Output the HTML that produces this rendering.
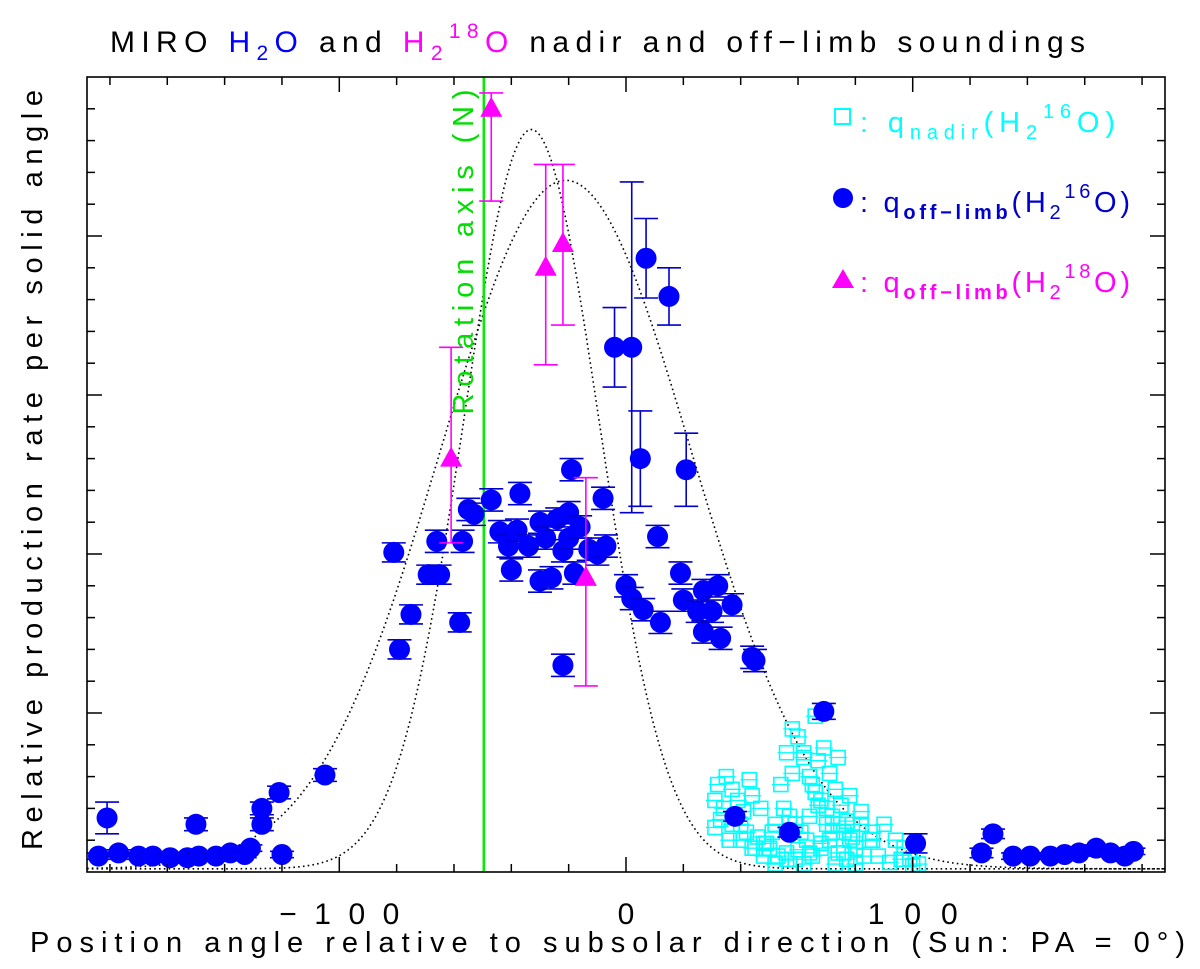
<!DOCTYPE html>
<html><head><meta charset="utf-8"><style>
body{margin:0;background:#fff;}
svg{display:block;font-family:"Liberation Sans",sans-serif;}
</style></head><body>
<svg id="chart" width="1200" height="969" viewBox="0 0 1200 969">
<rect width="1200" height="969" fill="#fff"/>
<g id="plot"></g>
<text x="110" y="52" font-size="30" textLength="975" lengthAdjust="spacing">MIRO <tspan fill="#0000ff">H<tspan font-size="21" dy="8">2</tspan><tspan dy="-8">O</tspan></tspan> and <tspan fill="#ff00ff">H<tspan font-size="21" dy="8">2</tspan><tspan font-size="21" dy="-22">18</tspan><tspan dy="14">O</tspan></tspan> nadir and off−limb soundings</text>
<text x="30" y="952" font-size="29" textLength="1155" lengthAdjust="spacing">Position angle relative to subsolar direction (Sun: PA = 0°)</text>
<text transform="translate(42,470) rotate(-90)" text-anchor="middle" font-size="29" textLength="760" lengthAdjust="spacing">Relative production rate per solid angle</text>
<text transform="translate(473,252) rotate(-90)" text-anchor="middle" font-size="29" fill="#00dd00" textLength="325" lengthAdjust="spacing">Rotation axis (N)</text>
<g>
<rect x="835" y="109" width="15" height="15" fill="none" stroke="#00ffff" stroke-width="2"/>
<text x="860" y="132" font-size="29" fill="#00ffff" textLength="255" lengthAdjust="spacing">: q<tspan font-size="20" dy="7">nadir</tspan><tspan dy="-7">(H</tspan><tspan font-size="20" dy="7">2</tspan><tspan font-size="20" dy="-21">16</tspan><tspan dy="14">O)</tspan></text>
<circle cx="843" cy="198" r="10" fill="#0000ff"/>
<text x="860" y="212" font-size="29" fill="#0000cc" textLength="270" lengthAdjust="spacing">: q<tspan font-size="20" dy="7" font-weight="bold">off−limb</tspan><tspan dy="-7">(H</tspan><tspan font-size="20" dy="7">2</tspan><tspan font-size="20" dy="-21">16</tspan><tspan dy="14">O)</tspan></text>
<polygon points="843,269 854,288 832,288" fill="#ff00ff"/>
<text x="860" y="292" font-size="29" fill="#ff00ff" textLength="270" lengthAdjust="spacing">: q<tspan font-size="20" dy="7" font-weight="bold">off−limb</tspan><tspan dy="-7">(H</tspan><tspan font-size="20" dy="7">2</tspan><tspan font-size="20" dy="-21">18</tspan><tspan dy="14">O)</tspan></text>
</g>
</svg>
<script>
const xTicks=[-100,0,100];
const xTickLabels=["−100","0","100"];
const rotAxisPA=-49.6;
// off-limb H2-16O: PA, value, error
const b16x=[-181,-184,-177,-170,-165,-159,-153,-149,-143,-138,-133,-131,-150,-127,-127,-121,-120,-105,-81,-79,-75,-66,-69,-65,-58,-57,-55,-53,-47,-44,-41,-40,-37,-38,-34,-30,-30,-28,-26,-24,-22,-20,-18,-20,-16,-13,-10,-8,-7,-19,-22,0,2,6,11,12,19,20,25,27,27,30,32,33,37,44,45,69,-4,2,5,7,15,21,38,57,101,124,128,135,141,148,153,158,164,169,174,177];
const b16y=[0.34,0.10,0.12,0.10,0.10,0.09,0.09,0.10,0.10,0.12,0.11,0.15,0.30,0.40,0.30,0.50,0.11,0.61,2.01,1.40,1.62,2.08,1.87,1.87,1.57,2.08,2.28,2.25,2.34,2.14,2.05,1.90,2.38,2.15,2.05,1.83,2.20,2.10,1.85,2.22,2.02,2.10,1.88,2.26,2.17,2.03,2.00,2.35,2.05,2.53,1.30,1.80,1.72,1.65,2.11,1.57,1.88,1.71,1.64,1.51,1.77,1.64,1.80,1.47,1.68,1.35,1.33,1.01,3.30,3.30,2.60,3.86,3.62,2.53,0.35,0.25,0.18,0.12,0.24,0.10,0.10,0.10,0.11,0.12,0.15,0.12,0.10,0.13];
const b16e=[0.1,0.02,0.02,0.02,0.02,0.02,0.02,0.02,0.02,0.02,0.02,0.02,0.04,0.04,0.04,0.04,0.02,0.04,0.06,0.06,0.06,0.07,0.06,0.06,0.06,0.07,0.07,0.07,0.07,0.07,0.07,0.07,0.07,0.07,0.07,0.07,0.07,0.07,0.07,0.07,0.07,0.07,0.07,0.07,0.07,0.07,0.07,0.07,0.07,0.07,0.07,0.07,0.07,0.07,0.07,0.07,0.07,0.07,0.07,0.07,0.07,0.07,0.07,0.07,0.07,0.07,0.07,0.05,0.25,1.04,0.3,0.25,0.18,0.23,0.03,0.03,0.06,0.03,0.03,0.02,0.02,0.02,0.02,0.02,0.02,0.02,0.02,0.02];
// off-limb H2-18O
const t18x=[-47,-61,-28,-22,-14];
const t18y=[4.8,2.6,3.8,3.95,1.85];
const t18lo=[4.22,2.07,3.19,3.44,1.17];
const t18hi=[4.9,3.3,4.45,4.45,2.48];
// nadir H2-16O
const nx=[32,35,37,31,34,38,40,42,36,33,31,39,43,46,48,50,52,41,44,47,54,56,58,60,62,64,66,68,70,72,74,76,78,80,55,57,59,61,63,65,67,69,71,73,75,77,79,53,56,59,62,65,68,71,74,77,80,83,86,90,94,97,99,102,49,51,45,64,67,70,73,76,79,82,85,88,92,96,100,37,40,44,48,52,56,60,64,68,72,58,62,66,74,78,82,86];
const ny=[0.55,0.6,0.52,0.45,0.4,0.35,0.3,0.25,0.2,0.33,0.28,0.45,0.58,0.22,0.18,0.15,0.3,0.38,0.48,0.4,0.55,0.75,0.9,0.85,0.75,0.6,0.5,0.45,0.4,0.35,0.3,0.25,0.2,0.15,0.4,0.35,0.3,0.25,0.2,0.55,0.7,0.78,0.62,0.52,0.42,0.32,0.22,0.1,0.12,0.08,0.05,0.1,0.15,0.2,0.12,0.08,0.05,0.1,0.25,0.3,0.2,0.15,0.08,0.05,0.18,0.25,0.15,0.35,0.42,0.3,0.05,0.12,0.3,0.38,0.2,0.1,0.06,0.08,0.04,0.3,0.2,0.15,0.1,0.05,0.08,0.14,0.12,0.18,0.25,0.62,0.72,0.98,0.72,0.48,0.3,0.2];
// model gaussians: amplitude, center, sigma
const gA=[4.65,4.33];
const gC=[-33,-21];
const gS=[23.6,43.8];
const gBase=0.02;

const NS='http://www.w3.org/2000/svg';
const X0=87,X1=1165,Y0=77,Y1=872;
const xMin=-188,xMax=188,yMin=0,yMax=5;
const sx=v=>X0+(v-xMin)/(xMax-xMin)*(X1-X0);
const sy=v=>Y1-(v-yMin)/(yMax-yMin)*(Y1-Y0);
const plot=document.getElementById('plot');
function mk(tag,attrs){const e=document.createElementNS(NS,tag);for(const k in attrs)e.setAttribute(k,attrs[k]);plot.appendChild(e);return e;}

const defs=mk('defs',{});
const cp=document.createElementNS(NS,'clipPath');cp.setAttribute('id','clip');
const cr=document.createElementNS(NS,'rect');cr.setAttribute('x',X0);cr.setAttribute('y',Y0);cr.setAttribute('width',X1-X0);cr.setAttribute('height',Y1-Y0);
cp.appendChild(cr);defs.appendChild(cp);

for(let g=0;g<gA.length;g++){
  let d='';
  for(let v=xMin;v<=xMax;v+=1){const y=gBase+gA[g]*Math.exp(-Math.pow(v-gC[g],2)/(2*gS[g]*gS[g]));d+=(v===xMin?'M':'L')+sx(v).toFixed(1)+','+sy(y).toFixed(1);}
  const p=mk('path',{d:d,fill:'none',stroke:'#000','stroke-width':1.6,'stroke-dasharray':'1.6,3.2','clip-path':'url(#clip)'});
  
  
}
const ra=mk('line',{x1:sx(rotAxisPA),x2:sx(rotAxisPA),y1:Y0,y2:Y1,stroke:'#00ee00','stroke-width':2.5});



for(let i=0;i<nx.length;i++){
  const cx=sx(nx[i]),cy=sy(ny[i]);
  const r=mk('rect',{x:cx-7,y:cy-7,width:14,height:14,fill:'none',stroke:'#00ffff','stroke-width':1.6,'clip-path':'url(#clip)'});
  
  
  mk('line',{x1:cx-9,x2:cx+9,y1:cy,y2:cy,stroke:'#00ffff','stroke-width':1.3});
}
for(let i=0;i<b16x.length;i++){
  const cx=sx(b16x[i]),cy=sy(b16y[i]),e=b16e[i];
  const eb=mk('path',{d:`M${cx},${sy(b16y[i]+e)}V${sy(b16y[i]-e)}M${cx-12},${sy(b16y[i]+e)}h24M${cx-12},${sy(b16y[i]-e)}h24`,stroke:'#0000cc','stroke-width':1.6,fill:'none'});
  
  
  const c=mk('circle',{cx:cx,cy:cy,r:10.5,fill:'#0000ff','clip-path':'url(#clip)'});
  
  
}
for(let i=0;i<t18x.length;i++){
  const cx=sx(t18x[i]),cy=sy(t18y[i]);
  const eb=mk('path',{d:`M${cx},${sy(t18hi[i])}V${sy(t18lo[i])}M${cx-12},${sy(t18hi[i])}h24M${cx-12},${sy(t18lo[i])}h24`,stroke:'#ff00ff','stroke-width':1.6,fill:'none'});
  
  
  const t=mk('polygon',{points:`${cx},${cy-12} ${cx+11},${cy+8} ${cx-11},${cy+8}`,fill:'#ff00ff'});
  
  
}
const fr=mk('rect',{x:X0,y:Y0,width:X1-X0,height:Y1-Y0,fill:'none',stroke:'#000','stroke-width':1.6});


for(let v=-180;v<=180;v+=20){
  const major=v%100===0,len=major?15:8;
  mk('line',{x1:sx(v),x2:sx(v),y1:Y1,y2:Y1-len,stroke:'#000','stroke-width':1.5});
  mk('line',{x1:sx(v),x2:sx(v),y1:Y0,y2:Y0+len,stroke:'#000','stroke-width':1.5});
}
for(let i=0;i<xTicks.length;i++){
  const t=mk('text',{x:sx(xTicks[i]),y:924,'text-anchor':'middle','font-size':30});
  t.textContent=xTickLabels[i];
  if(xTickLabels[i].length>1){t.setAttribute('textLength',xTickLabels[i].length*30);t.setAttribute('lengthAdjust','spacing');}
  
  
}
for(let k=1;k<25;k++){
  const v=k*0.2,major=k%5===0,len=major?15:8;
  mk('line',{x1:X0,x2:X0+len,y1:sy(v),y2:sy(v),stroke:'#000','stroke-width':1.5});
  mk('line',{x1:X1,x2:X1-len,y1:sy(v),y2:sy(v),stroke:'#000','stroke-width':1.5});
}
</script>
</body></html>
